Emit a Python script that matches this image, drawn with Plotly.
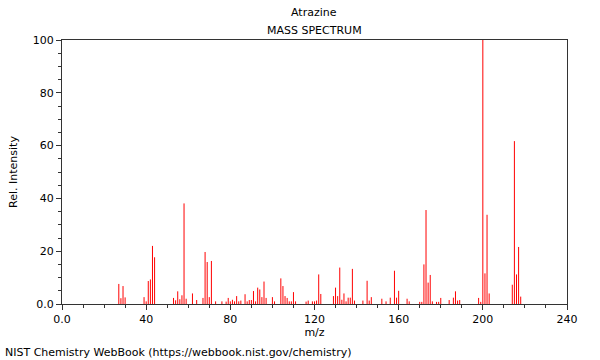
import plotly.graph_objects as go

mz = [27, 28, 29, 30, 39, 40, 41, 42, 43, 44, 53, 54, 55, 56, 57, 58, 59, 62, 64, 67,
      68, 69, 70, 71, 73, 76, 78, 79, 80, 81, 82, 83, 84, 85, 87, 88, 89, 90, 91, 92,
      93, 94, 95, 96, 97, 100, 101, 104, 105, 106, 107, 108, 109, 110, 111, 116, 117,
      119, 120, 121, 122, 123, 129, 130, 131, 132, 133, 134, 135, 136, 137, 138, 139,
      143, 145, 146, 147, 152, 154, 156, 158, 159, 160, 164, 165, 170, 171, 172, 173,
      174, 175, 176, 178, 179, 180, 184, 186, 187, 188, 189, 198, 199, 200, 201, 202,
      203, 214, 215, 216, 217, 218]
intensity = [7.6, 2.2, 6.8, 2.5, 2.6, 1.0, 8.7, 9.3, 22.0, 17.7, 2.3, 1.4, 4.8, 1.8, 3.3,
             38.1, 2.0, 4.0, 1.5, 2.3, 19.7, 15.9, 2.6, 16.3, 1.0, 1.0, 0.9, 2.3, 1.0, 1.6,
             1.0, 3.0, 1.0, 1.3, 3.7, 1.0, 1.5, 1.5, 4.9, 1.0, 6.2, 5.5, 2.6, 8.5, 2.3,
             2.6, 1.0, 9.7, 6.8, 3.0, 2.3, 1.0, 1.0, 4.5, 1.0, 0.9, 1.3, 1.0, 1.0, 1.3,
             11.2, 3.8, 3.0, 6.2, 3.0, 13.8, 1.6, 4.0, 1.0, 2.4, 2.4, 13.3, 1.3, 1.3, 8.8,
             1.3, 2.6, 2.0, 1.0, 2.4, 12.6, 2.4, 5.0, 2.0, 1.0, 0.8, 0.8, 15.0, 35.6, 8.1,
             11.0, 1.0, 0.8, 0.8, 2.3, 1.5, 2.4, 4.8, 1.3, 1.5, 2.3, 0.8, 100.0, 11.6,
             33.8, 4.0, 7.3, 61.7, 11.2, 21.6, 2.8]

x_tickvals = [0, 40, 80, 120, 160, 200, 240]
x_ticktext = ["0.0", "40", "80", "120", "160", "200", "240"]
y_tickvals = [0, 20, 40, 60, 80, 100]
y_ticktext = ["0.0", "20", "40", "60", "80", "100"]

FONT = "DejaVu Sans"

# stick spectrum: one vertical segment per peak, built from the data arrays
xs, ys = [], []
for m, v in zip(mz, intensity):
    xs += [m, m, None]
    ys += [0, v, None]

fig = go.Figure()
fig.add_trace(go.Scatter(x=xs, y=ys, mode="lines",
                         line=dict(color="#ff0000", width=1, simplify=False),
                         hoverinfo="skip"))

axis_common = dict(showline=True, mirror=True, linecolor="#333333", linewidth=1,
                   ticks="outside", ticklen=5, tickcolor="#333333", showgrid=False,
                   zeroline=False, tickfont=dict(family=FONT, size=11, color="#000000"))

fig.update_xaxes(range=[0, 240], tickvals=x_tickvals, ticktext=x_ticktext,
                 minor=dict(dtick=10, tick0=0, ticks="outside", ticklen=3,
                            tickcolor="#333333", showgrid=False),
                 title=dict(text="m/z", font=dict(family=FONT, size=11, color="#000000"),
                            standoff=3),
                 **axis_common)
fig.update_yaxes(range=[0, 100], tickvals=y_tickvals, ticktext=y_ticktext,
                 minor=dict(dtick=5, tick0=0, ticks="outside", ticklen=3,
                            tickcolor="#333333", showgrid=False),
                 title=dict(text="Rel. Intensity", font=dict(family=FONT, size=11, color="#000000"),
                            standoff=12),
                 **axis_common)

L, R, T, B = 62, 33, 40, 56
W, H = 600, 360
pw = W - L - R
ph = H - T - B


def px_to_paper(x_px, y_px):
    return (x_px - L) / pw, (H - B - y_px) / ph


_, ay1 = px_to_paper(0, 12)
_, ay2 = px_to_paper(0, 30)
fx, fy = px_to_paper(3, 352)
cx = (314 - L) / pw

fig.update_layout(
    width=W, height=H,
    margin=dict(l=L, r=R, t=T, b=B, autoexpand=False),
    plot_bgcolor="white", paper_bgcolor="white",
    showlegend=False,
    font=dict(family=FONT, size=11, color="#000000"),
    annotations=[
        dict(text="Atrazine", x=cx, xref="paper", y=ay1, yref="paper",
             showarrow=False, yanchor="middle", xanchor="center",
             font=dict(family=FONT, size=11)),
        dict(text="MASS SPECTRUM", x=cx, xref="paper", y=ay2, yref="paper",
             showarrow=False, yanchor="middle", xanchor="center",
             font=dict(family=FONT, size=11)),
        dict(text="NIST Chemistry WebBook (https://webbook.nist.gov/chemistry)",
             x=fx, xref="paper", y=fy, yref="paper", showarrow=False,
             xanchor="left", yanchor="middle", font=dict(family=FONT, size=11)),
    ],
)

fig.write_html("out.html", config={"staticPlot": True, "displayModeBar": False},
               post_script="document.body.style.margin='0';")
